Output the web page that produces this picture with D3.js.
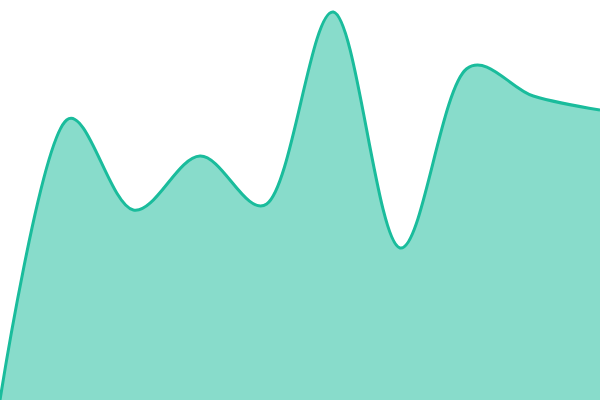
<!DOCTYPE html>
<html>
<head>
<meta charset="utf-8">
<script src="https://cdn.jsdelivr.net/npm/d3@7"></script>
<style>
  body { margin: 0; background: #fff; }
  svg { display: block; }
</style>
</head>
<body>
<svg id="chart" width="600" height="400"></svg>
<script>
var steps = [0, 1, 2, 3, 4, 5, 6, 7, 8, 9];
var values = [0, 70, 47.5, 61, 49, 97, 38, 82.8, 76, 72.5];

var width = 600, height = 400;
var svg = d3.select("#chart");

var x = d3.scaleLinear().domain([0, 9]).range([0, width]);
var y = d3.scaleLinear().domain([0, 100]).range([height, 0]);

var data = steps.map(function(s, i) { return {s: s, v: values[i]}; });
var curve = d3.curveCatmullRom.alpha(0.25);

var area = d3.area()
  .x(function(d) { return x(d.s); })
  .y0(height)
  .y1(function(d) { return y(d.v); })
  .curve(curve);

var line = d3.line()
  .x(function(d) { return x(d.s); })
  .y(function(d) { return y(d.v); })
  .curve(curve);

svg.append("path")
  .datum(data)
  .attr("d", area)
  .attr("fill", "#1abc9c")
  .attr("fill-opacity", 0.52);

svg.append("path")
  .datum(data)
  .attr("d", line)
  .attr("fill", "none")
  .attr("stroke", "#1abc9c")
  .attr("stroke-width", 3);
</script>
</body>
</html>
